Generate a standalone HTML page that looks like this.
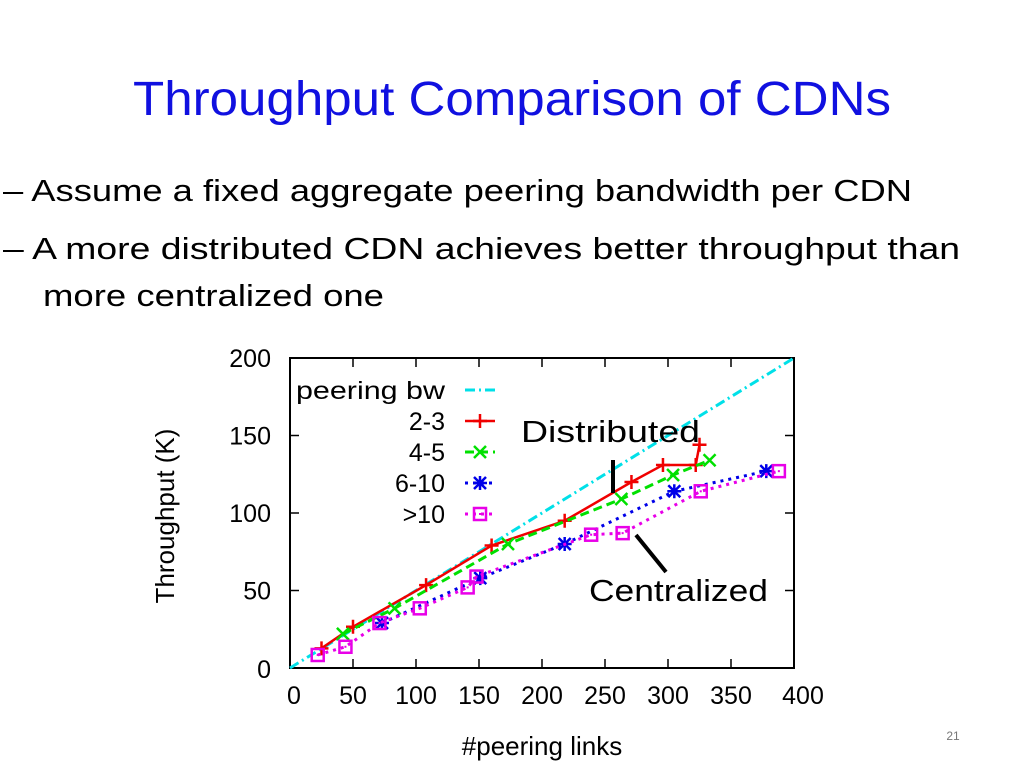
<!DOCTYPE html>
<html><head><meta charset="utf-8"><style>
html,body{margin:0;padding:0;background:#fff}
svg{display:block}
text{font-family:"Liberation Sans",sans-serif}
</style></head><body>
<svg id="s" width="1024" height="768" viewBox="0 0 1024 768">
<text x="512" y="115" text-anchor="middle" font-size="48" fill="#1010e0" textLength="758" lengthAdjust="spacingAndGlyphs">Throughput Comparison of CDNs</text>
<text x="3" y="201" font-size="31" fill="#000" textLength="909" lengthAdjust="spacingAndGlyphs">– Assume a fixed aggregate peering bandwidth per CDN</text>
<text x="3" y="259" font-size="31" fill="#000" textLength="957" lengthAdjust="spacingAndGlyphs">– A more distributed CDN achieves better throughput than</text>
<text x="43" y="306" font-size="31" fill="#000" textLength="341" lengthAdjust="spacingAndGlyphs">more centralized one</text>
<text x="953" y="740" font-size="12" fill="#777" text-anchor="middle">21</text>
<g id="chart"></g>
</svg>
<script>
const xTicks=[0,50,100,150,200,250,300,350,400];
const yTicks=[0,50,100,150,200];
const bwX=[0,400], bwY=[0,200];
const s23X=[25,50,108,160,218,271,296,322,325];
const s23Y=[12.7,26.6,53.5,79,95,120,131,131,144];
const s45X=[42,83,173,263,304,333];
const s45Y=[22,38.5,80,109,124.5,134];
const s610X=[73,151,218,305,378];
const s610Y=[29,58,80,114,127];
const s10X=[22,44,71,103,141,148,239,264,326,388];
const s10Y=[8.4,13.7,29,38.5,52,59,86,87,114,127];
const L=290,R=794,T=358,B=668;
const xs=v=>L+(v/400)*(R-L), ys=v=>B-(v/200)*(B-T);
const g=document.getElementById('chart'),NS='http://www.w3.org/2000/svg';
function mk(t,a,p){const e=document.createElementNS(NS,t);for(const k in a)e.setAttribute(k,a[k]);(p||g).appendChild(e);return e;}
let fr=mk('rect',{x:L,y:T,width:R-L,height:B-T,fill:'none',stroke:'#000','stroke-width':2});


xTicks.forEach(v=>{
  mk('line',{x1:xs(v),x2:xs(v),y1:B,y2:B-9,stroke:'#000','stroke-width':1.5});
  mk('line',{x1:xs(v),x2:xs(v),y1:T,y2:T+9,stroke:'#000','stroke-width':1.5});
  const t=mk('text',{x:xs(v)+(v==0?4:v==400?9:0),y:B+36,'font-size':25,'text-anchor':'middle'});t.textContent=v;
  
  
});
yTicks.forEach(v=>{
  mk('line',{x1:L,x2:L+9,y1:ys(v),y2:ys(v),stroke:'#000','stroke-width':1.5});
  mk('line',{x1:R,x2:R-9,y1:ys(v),y2:ys(v),stroke:'#000','stroke-width':1.5});
  const t=mk('text',{x:271,y:ys(v)+(v==0?10:9),'font-size':25,'text-anchor':'end'});t.textContent=v;
  
  
});
let xt=mk('text',{x:542,y:755,'font-size':26,'text-anchor':'middle'});xt.textContent='#peering links';


let yt=mk('text',{x:0,y:0,'font-size':26,'text-anchor':'middle',transform:'translate(174,516) rotate(-90)'});yt.textContent='Throughput (K)';


function marker(type,x,y,c,p){
  if(type=='plus'){mk('path',{d:`M${x-7} ${y}H${x+7}M${x} ${y-7}V${y+7}`,stroke:c,'stroke-width':2.5,fill:'none'},p);}
  else if(type=='x'){mk('path',{d:`M${x-6} ${y-6}L${x+6} ${y+6}M${x-6} ${y+6}L${x+6} ${y-6}`,stroke:c,'stroke-width':2.5,fill:'none'},p);}
  else if(type=='star'){mk('path',{d:`M${x-6} ${y-6}L${x+6} ${y+6}M${x-6} ${y+6}L${x+6} ${y-6}M${x-7} ${y}H${x+7}M${x} ${y-7}V${y+7}`,stroke:c,'stroke-width':2.5,fill:'none'},p);}
  else {mk('rect',{x:x-6,y:y-6,width:12,height:12,stroke:c,'stroke-width':2.5,fill:'none'},p);mk('rect',{x:x-1,y:y-1,width:2,height:2,fill:c},p);}
}
const series=[
 {n:'series-peering-bw',X:bwX,Y:bwY,c:'#00e0e8',d:'10,4,2,4',w:3,m:null,lab:'peering bw'},
 {n:'series-2-3',X:s23X,Y:s23Y,c:'#f00000',d:'',w:2.5,m:'plus',lab:'2-3'},
 {n:'series-4-5',X:s45X,Y:s45Y,c:'#00e000',d:'9,5',w:3,m:'x',lab:'4-5'},
 {n:'series-6-10',X:s610X,Y:s610Y,c:'#0000e8',d:'3,5',w:3,m:'star',lab:'6-10'},
 {n:'series-gt10',X:s10X,Y:s10Y,c:'#e800e8',d:'3,5',w:3,m:'sq',lab:'>10'}
];
series.forEach((sr,i)=>{
  const grp=mk('g',{});
  
  
  mk('polyline',{points:sr.X.map((x,j)=>xs(x)+','+ys(sr.Y[j])).join(' '),fill:'none',stroke:sr.c,'stroke-width':sr.w,'stroke-dasharray':sr.d},grp);
  if(sr.m) sr.X.forEach((x,j)=>marker(sr.m,xs(x),ys(sr.Y[j]),sr.c,grp));
  const ly=390+i*31;
  const lg=mk('g',{});
  
  
  const t=mk('text',{x:445,y:ly+9,'font-size':25,'text-anchor':'end'},lg);t.textContent=sr.lab;
  if(i==0){t.setAttribute('textLength','149');t.setAttribute('lengthAdjust','spacingAndGlyphs');}
  mk('line',{x1:465,x2:495,y1:ly,y2:ly,stroke:sr.c,'stroke-width':sr.w,'stroke-dasharray':sr.d},lg);
  if(sr.m) marker(sr.m,480,ly,sr.c,lg);
});
let d=mk('text',{x:521,y:442,'font-size':31,textLength:179,lengthAdjust:'spacingAndGlyphs'});d.textContent='Distributed';


mk('line',{x1:613,x2:613,y1:460,y2:493,stroke:'#000','stroke-width':4});
let c=mk('text',{x:589,y:601,'font-size':31,textLength:179,lengthAdjust:'spacingAndGlyphs'});c.textContent='Centralized';


mk('line',{x1:636,x2:666,y1:535,y2:572,stroke:'#000','stroke-width':4});
</script>
</body></html>
